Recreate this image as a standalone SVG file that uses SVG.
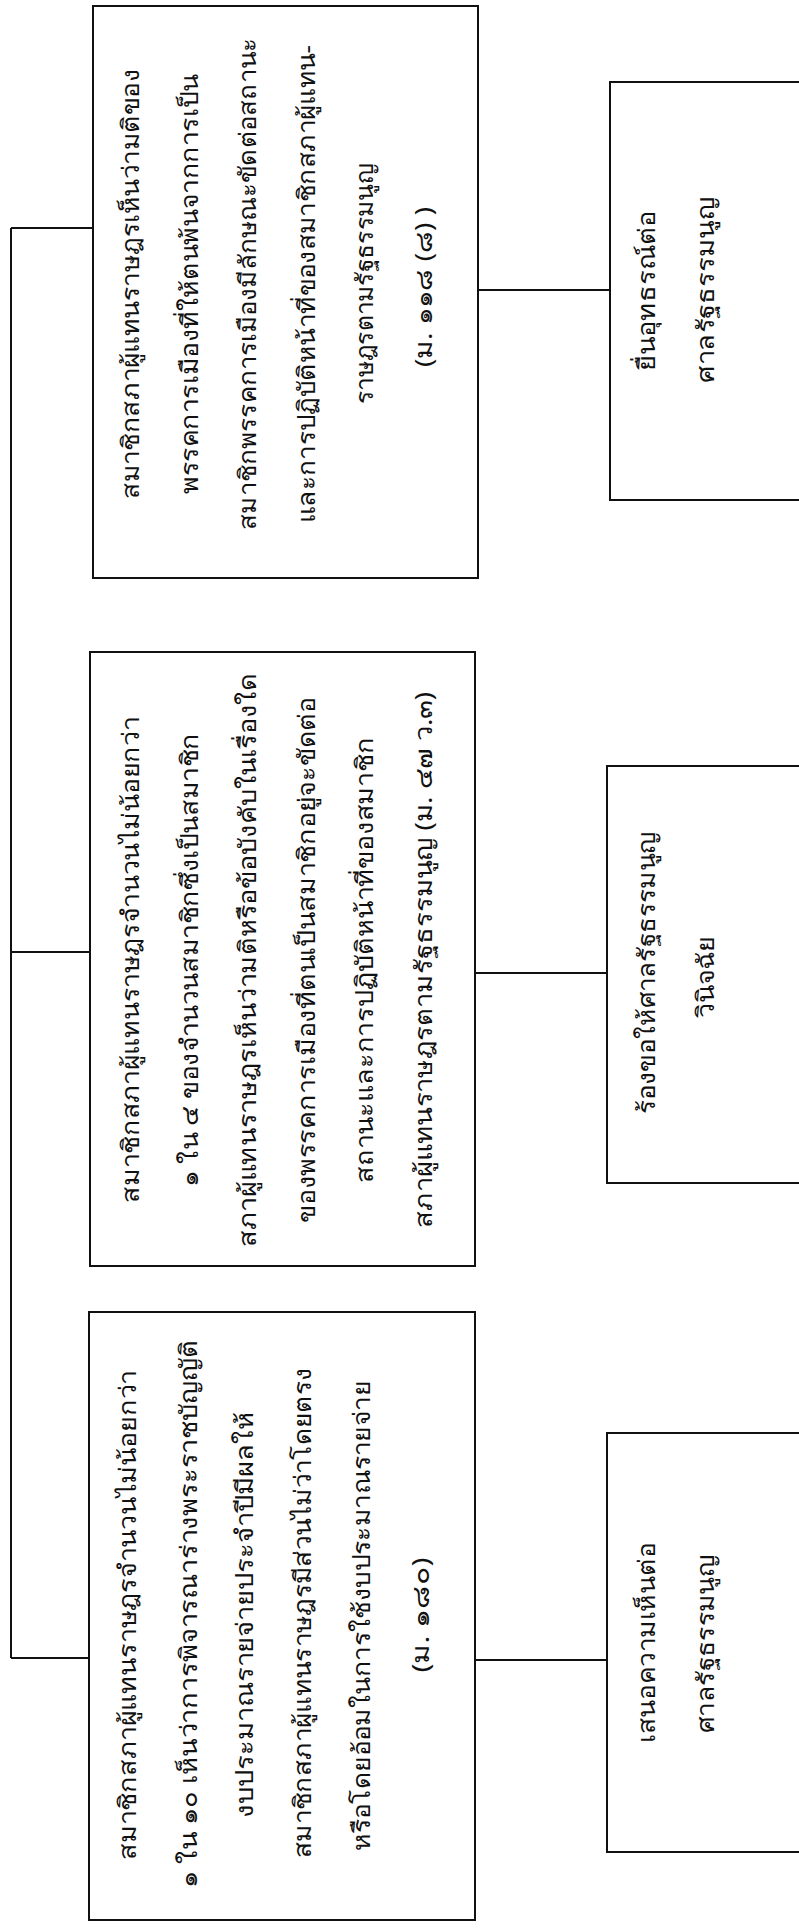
<svg xmlns="http://www.w3.org/2000/svg" width="799" height="1929" viewBox="0 0 799 1929">
<style>
.box{fill:none;stroke:#111;stroke-width:2}
.ln{fill:none;stroke:#111;stroke-width:2}
text{font-family:"Noto Sans","DejaVu Sans",sans-serif;font-size:24px;fill:#111;text-anchor:middle}
</style>
<rect x="0" y="0" width="799" height="1929" fill="#ffffff"/>
<g id="connectors">
<path class="ln" d="M11,228 V1658"/>
<path class="ln" d="M11,228 H93"/>
<path class="ln" d="M11,952 H90"/>
<path class="ln" d="M11,1658 H89"/>
<path class="ln" d="M478,290 H610"/>
<path class="ln" d="M475,973 H607"/>
<path class="ln" d="M475,1660 H607"/>
</g>
<g id="n3">
<rect class="box" x="93" y="6" width="385" height="572"/>
<text transform="translate(139,284) rotate(-90)" textLength="430" lengthAdjust="spacingAndGlyphs">สมาชิกสภาผู้แทนราษฎรเห็นว่ามติของ</text>
<text transform="translate(198,284) rotate(-90)" textLength="420" lengthAdjust="spacingAndGlyphs">พรรคการเมืองที่ให้ตนพ้นจากการเป็น</text>
<text transform="translate(256,284) rotate(-90)" textLength="492" lengthAdjust="spacingAndGlyphs">สมาชิกพรรคการเมืองมีลักษณะขัดต่อสถานะ</text>
<text transform="translate(315,284) rotate(-90)" textLength="478" lengthAdjust="spacingAndGlyphs">และการปฏิบัติหน้าที่ของสมาชิกสภาผู้แทน-</text>
<text transform="translate(373,284) rotate(-90)" textLength="240" lengthAdjust="spacingAndGlyphs">ราษฎรตามรัฐธรรมนูญ</text>
<text transform="translate(432,287) rotate(-90)" textLength="160" lengthAdjust="spacingAndGlyphs">(ม. ๑๑๘ (๘) )</text>
</g>
<g id="n2">
<rect class="box" x="90" y="652" width="385" height="614"/>
<text transform="translate(139,960) rotate(-90)" textLength="486" lengthAdjust="spacingAndGlyphs">สมาชิกสภาผู้แทนราษฎรจำนวนไม่น้อยกว่า</text>
<text transform="translate(198,960) rotate(-90)" textLength="454" lengthAdjust="spacingAndGlyphs">๑ ใน ๔ ของจำนวนสมาชิกซึ่งเป็นสมาชิก</text>
<text transform="translate(256,960) rotate(-90)" textLength="574" lengthAdjust="spacingAndGlyphs">สภาผู้แทนราษฎรเห็นว่ามติหรือข้อบังคับในเรื่องใด</text>
<text transform="translate(315,960) rotate(-90)" textLength="526" lengthAdjust="spacingAndGlyphs">ของพรรคการเมืองที่ตนเป็นสมาชิกอยู่จะขัดต่อ</text>
<text transform="translate(373,960) rotate(-90)" textLength="446" lengthAdjust="spacingAndGlyphs">สถานะและการปฏิบัติหน้าที่ของสมาชิก</text>
<text transform="translate(432,960) rotate(-90)" textLength="536" lengthAdjust="spacingAndGlyphs">สภาผู้แทนราษฎรตามรัฐธรรมนูญ (ม. ๔๗ ว.๓)</text>
</g>
<g id="n1">
<rect class="box" x="89" y="1312" width="386" height="608"/>
<text transform="translate(136,1615) rotate(-90)" textLength="490" lengthAdjust="spacingAndGlyphs">สมาชิกสภาผู้แทนราษฎรจำนวนไม่น้อยกว่า</text>
<text transform="translate(197,1614) rotate(-90)" textLength="548" lengthAdjust="spacingAndGlyphs">๑ ใน ๑๐ เห็นว่าการพิจารณาร่างพระราชบัญญัติ</text>
<text transform="translate(253,1615) rotate(-90)" textLength="406" lengthAdjust="spacingAndGlyphs">งบประมาณรายจ่ายประจำปีมีผลให้</text>
<text transform="translate(311,1613) rotate(-90)" textLength="490" lengthAdjust="spacingAndGlyphs">สมาชิกสภาผู้แทนราษฎรมีส่วนไม่ว่าโดยตรง</text>
<text transform="translate(370,1616) rotate(-90)" textLength="470" lengthAdjust="spacingAndGlyphs">หรือโดยอ้อมในการใช้งบประมาณรายจ่าย</text>
<text transform="translate(429,1615) rotate(-90)" textLength="115" lengthAdjust="spacingAndGlyphs">(ม. ๑๘๐)</text>
</g>
<g id="s3">
<rect class="box" x="610" y="82" width="200" height="418"/>
<text transform="translate(655,291) rotate(-90)" textLength="160" lengthAdjust="spacingAndGlyphs">ยื่นอุทธรณ์ต่อ</text>
<text transform="translate(714,290) rotate(-90)" textLength="185" lengthAdjust="spacingAndGlyphs">ศาลรัฐธรรมนูญ</text>
</g>
<g id="s2">
<rect class="box" x="607" y="766" width="203" height="417"/>
<text transform="translate(655,973) rotate(-90)" textLength="282" lengthAdjust="spacingAndGlyphs">ร้องขอให้ศาลรัฐธรรมนูญ</text>
<text transform="translate(714,977) rotate(-90)" textLength="82" lengthAdjust="spacingAndGlyphs">วินิจฉัย</text>
</g>
<g id="s1">
<rect class="box" x="607" y="1433" width="203" height="419"/>
<text transform="translate(655,1643) rotate(-90)" textLength="200" lengthAdjust="spacingAndGlyphs">เสนอความเห็นต่อ</text>
<text transform="translate(714,1644) rotate(-90)" textLength="178" lengthAdjust="spacingAndGlyphs">ศาลรัฐธรรมนูญ</text>
</g>
</svg>
